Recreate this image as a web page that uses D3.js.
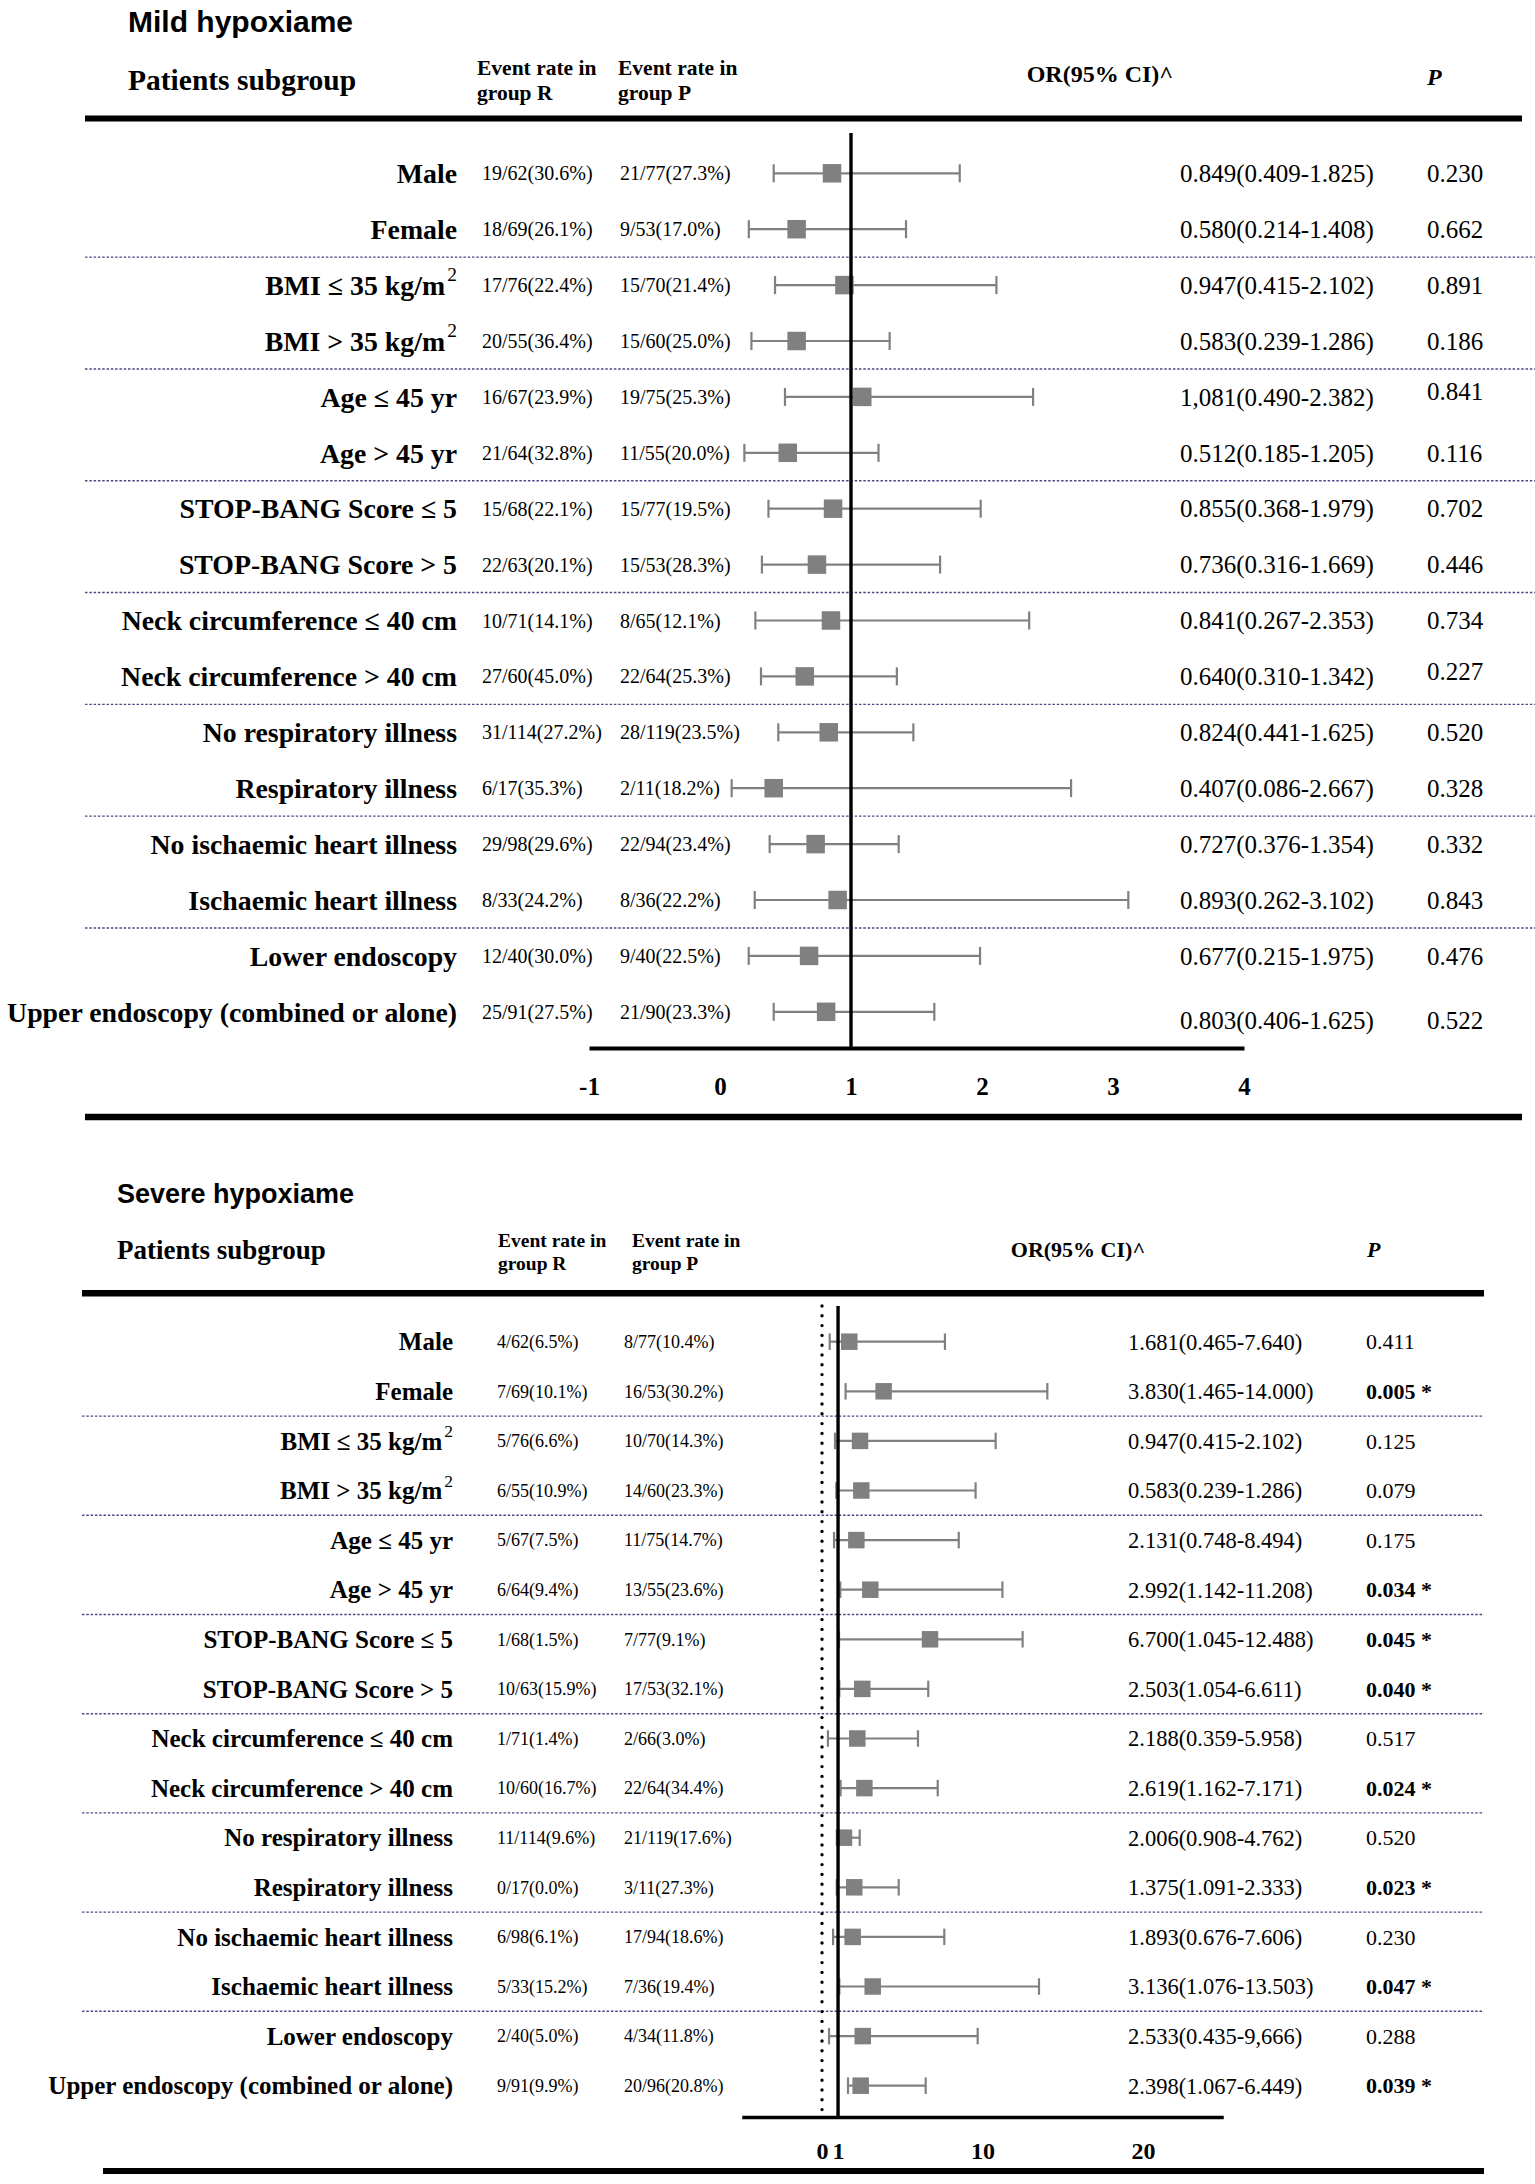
<!DOCTYPE html>
<html>
<head>
<meta charset="utf-8">
<script src="https://cdn.jsdelivr.net/npm/d3@7"></script>
<style>
  html, body { margin: 0; padding: 0; background: #ffffff; }
  svg { display: block; }
</style>
</head>
<body>
<script>
// ---------------- DATA ----------------
const subgroups = [
  "Male", "Female", "BMI ≤ 35 kg/m²", "BMI > 35 kg/m²", "Age ≤ 45 yr", "Age > 45 yr",
  "STOP-BANG Score ≤ 5", "STOP-BANG Score > 5", "Neck circumference ≤ 40 cm", "Neck circumference > 40 cm",
  "No respiratory illness", "Respiratory illness", "No ischaemic heart illness", "Ischaemic heart illness",
  "Lower endoscopy", "Upper endoscopy (combined or alone)"
];
const groupEnds = [1, 3, 5, 7, 9, 11, 13]; // separator drawn after these rows

// Mild hypoxiame
const mildRateR = ["19/62(30.6%)", "18/69(26.1%)", "17/76(22.4%)", "20/55(36.4%)", "16/67(23.9%)", "21/64(32.8%)",
  "15/68(22.1%)", "22/63(20.1%)", "10/71(14.1%)", "27/60(45.0%)", "31/114(27.2%)", "6/17(35.3%)",
  "29/98(29.6%)", "8/33(24.2%)", "12/40(30.0%)", "25/91(27.5%)"];
const mildRateP = ["21/77(27.3%)", "9/53(17.0%)", "15/70(21.4%)", "15/60(25.0%)", "19/75(25.3%)", "11/55(20.0%)",
  "15/77(19.5%)", "15/53(28.3%)", "8/65(12.1%)", "22/64(25.3%)", "28/119(23.5%)", "2/11(18.2%)",
  "22/94(23.4%)", "8/36(22.2%)", "9/40(22.5%)", "21/90(23.3%)"];
const mildORText = ["0.849(0.409-1.825)", "0.580(0.214-1.408)", "0.947(0.415-2.102)", "0.583(0.239-1.286)",
  "1,081(0.490-2.382)", "0.512(0.185-1.205)", "0.855(0.368-1.979)", "0.736(0.316-1.669)",
  "0.841(0.267-2.353)", "0.640(0.310-1.342)", "0.824(0.441-1.625)", "0.407(0.086-2.667)",
  "0.727(0.376-1.354)", "0.893(0.262-3.102)", "0.677(0.215-1.975)", "0.803(0.406-1.625)"];
const mildPText = ["0.230", "0.662", "0.891", "0.186", "0.841", "0.116", "0.702", "0.446",
  "0.734", "0.227", "0.520", "0.328", "0.332", "0.843", "0.476", "0.522"];
// plotted marks
const mildOR = [0.855, 0.585, 0.95, 0.585, 1.086, 0.517, 0.863, 0.74, 0.847, 0.647, 0.83, 0.41, 0.73, 0.898, 0.68, 0.81];
const mildLo = [0.41, 0.22, 0.42, 0.24, 0.496, 0.186, 0.37, 0.32, 0.27, 0.313, 0.445, 0.089, 0.379, 0.265, 0.219, 0.41];
const mildHi = [1.83, 1.42, 2.11, 1.295, 2.39, 1.21, 1.99, 1.68, 2.36, 1.35, 1.476, 2.68, 1.364, 3.117, 1.985, 1.636];
const mildTicks = [-1, 0, 1, 2, 3, 4];

// Severe hypoxiame
const severeRateR = ["4/62(6.5%)", "7/69(10.1%)", "5/76(6.6%)", "6/55(10.9%)", "5/67(7.5%)", "6/64(9.4%)",
  "1/68(1.5%)", "10/63(15.9%)", "1/71(1.4%)", "10/60(16.7%)", "11/114(9.6%)", "0/17(0.0%)",
  "6/98(6.1%)", "5/33(15.2%)", "2/40(5.0%)", "9/91(9.9%)"];
const severeRateP = ["8/77(10.4%)", "16/53(30.2%)", "10/70(14.3%)", "14/60(23.3%)", "11/75(14.7%)", "13/55(23.6%)",
  "7/77(9.1%)", "17/53(32.1%)", "2/66(3.0%)", "22/64(34.4%)", "21/119(17.6%)", "3/11(27.3%)",
  "17/94(18.6%)", "7/36(19.4%)", "4/34(11.8%)", "20/96(20.8%)"];
const severeORText = ["1.681(0.465-7.640)", "3.830(1.465-14.000)", "0.947(0.415-2.102)", "0.583(0.239-1.286)",
  "2.131(0.748-8.494)", "2.992(1.142-11.208)", "6.700(1.045-12.488)", "2.503(1.054-6.611)",
  "2.188(0.359-5.958)", "2.619(1.162-7.171)", "2.006(0.908-4.762)", "1.375(1.091-2.333)",
  "1.893(0.676-7.606)", "3.136(1.076-13.503)", "2.533(0.435-9,666)", "2.398(1.067-6.449)"];
const severePText = ["0.411", "0.005 *", "0.125", "0.079", "0.175", "0.034 *", "0.045 *", "0.040 *",
  "0.517", "0.024 *", "0.520", "0.023 *", "0.230", "0.047 *", "0.288", "0.039 *"];
const severeOR = [1.70, 3.84, 2.37, 2.45, 2.14, 3.01, 6.73, 2.51, 2.2, 2.64, 1.37, 2.01, 1.91, 3.16, 2.54, 2.41];
const severeLo = [0.48, 1.47, 0.81, 0.89, 0.75, 1.14, 1.06, 1.08, 0.37, 1.16, 1.09, 0.92, 0.69, 1.08, 0.44, 1.62];
const severeHi = [7.66, 14.04, 10.82, 9.57, 8.52, 11.24, 12.5, 6.62, 5.98, 7.21, 2.35, 4.78, 7.62, 13.52, 9.7, 6.46];
const severeTicks = [0, 1, 10, 20];

// ---------------- DRAWING ----------------
const W = 1535, H = 2184;
const SERIF = "'Liberation Serif', 'Times New Roman', serif";
const SANS = "'Liberation Sans', Arial, sans-serif";
const MARK = "#808080";
const SEP = "#4a4a85";

const svg = d3.select("body").append("svg").attr("width", W).attr("height", H);
svg.append("rect").attr("width", W).attr("height", H).attr("fill", "#fff");

function addLabel(g, text, x, y, size) {
  const t = g.append("text").attr("x", x).attr("y", y).attr("dy", "0.35em")
    .attr("text-anchor", "end").attr("font-family", SERIF).attr("font-weight", "bold")
    .attr("font-size", size).attr("fill", "#000");
  if (text.includes("²")) {
    t.append("tspan").text(text.replace("²", ""));
    t.append("tspan").text("2").attr("font-weight", "normal").attr("font-size", size * 0.7)
      .attr("dx", size * 0.08).attr("dy", -size * 0.5);
  } else {
    t.text(text);
  }
}

function drawPanel(c) {
  const g = svg.append("g");
  const x = d3.scaleLinear().domain(c.domain).range(c.range);
  const y = d3.scalePoint().domain(d3.range(subgroups.length)).range(c.rowsY);
  const step = y.step();

  // titles and headers
  g.append("text").attr("x", c.title.x).attr("y", c.title.y).text(c.title.text)
    .attr("font-family", SANS).attr("font-weight", "bold").attr("font-size", c.title.size);
  g.append("text").attr("x", c.sub.x).attr("y", c.sub.y).text("Patients subgroup")
    .attr("font-family", SERIF).attr("font-weight", "bold").attr("font-size", c.sub.size);
  [[c.ev.x1, "group R"], [c.ev.x2, "group P"]].forEach(([ex, l2]) => {
    g.append("text").attr("x", ex).attr("y", c.ev.y1).text("Event rate in")
      .attr("font-family", SERIF).attr("font-weight", "bold").attr("font-size", c.ev.size);
    g.append("text").attr("x", ex).attr("y", c.ev.y2).text(l2)
      .attr("font-family", SERIF).attr("font-weight", "bold").attr("font-size", c.ev.size);
  });
  g.append("text").attr("x", c.orH.cx).attr("y", c.orH.y).text("OR(95% CI)^").attr("text-anchor", "middle")
    .attr("font-family", SERIF).attr("font-weight", "bold").attr("font-size", c.orH.size);
  g.append("text").attr("x", c.pH.x).attr("y", c.pH.y).text("P")
    .attr("font-family", SERIF).attr("font-weight", "bold").attr("font-style", "italic").attr("font-size", c.pH.size);

  // thick rules
  [c.top, c.bottom].forEach(r => {
    g.append("line").attr("x1", r.x1).attr("x2", r.x2).attr("y1", r.y).attr("y2", r.y)
      .attr("stroke", "#000").attr("stroke-width", r.w);
  });

  // group separators
  g.selectAll("line.sep").data(groupEnds).join("line").attr("class", "sep")
    .attr("x1", c.sepX[0]).attr("x2", c.sepX[1])
    .attr("y1", d => y(d) + step / 2).attr("y2", d => y(d) + step / 2)
    .attr("stroke", SEP).attr("stroke-width", 1.4).attr("stroke-dasharray", "2.5,1.8");

  // row texts
  subgroups.forEach((s, i) => addLabel(g, s, c.labelX, y(i), c.labelSize));
  const rowText = (arr, xx, size, nudge, weightFn) => {
    g.append("g").selectAll("text").data(arr).join("text")
      .attr("x", xx).attr("y", (d, i) => y(i) + ((nudge && nudge[i]) || 0)).attr("dy", "0.35em")
      .attr("font-family", SERIF).attr("font-size", size)
      .attr("font-weight", d => weightFn ? weightFn(d) : "normal").text(d => d);
  };
  rowText(c.rateR, c.rateRX, c.rateSize);
  rowText(c.rateP, c.ratePX, c.rateSize);
  rowText(c.orText, c.orX, c.orSize, c.orNudge);
  rowText(c.pText, c.pX, c.pSize, c.pNudge, d => d.includes("*") ? "bold" : "normal");

  // dotted reference line at 0
  if (c.dotted) {
    g.append("line").attr("x1", x(0)).attr("x2", x(0)).attr("y1", c.vTop).attr("y2", c.axisY - 5)
      .attr("stroke", "#000").attr("stroke-width", 3.4).attr("stroke-linecap", "round")
      .attr("stroke-dasharray", "0,9.8");
  }

  // CI whiskers and point estimates
  const idx = d3.range(subgroups.length);
  const wg = g.append("g").attr("stroke", MARK).attr("stroke-width", 2.2);
  wg.selectAll("line.ci").data(idx).join("line").attr("class", "ci")
    .attr("x1", i => x(c.lo[i])).attr("x2", i => x(c.hi[i])).attr("y1", i => y(i)).attr("y2", i => y(i));
  wg.selectAll("line.capL").data(idx).join("line").attr("class", "capL")
    .attr("x1", i => x(c.lo[i])).attr("x2", i => x(c.lo[i]))
    .attr("y1", i => y(i) - c.cap / 2).attr("y2", i => y(i) + c.cap / 2);
  wg.selectAll("line.capR").data(idx).join("line").attr("class", "capR")
    .attr("x1", i => x(c.hi[i])).attr("x2", i => x(c.hi[i]))
    .attr("y1", i => y(i) - c.cap / 2).attr("y2", i => y(i) + c.cap / 2);
  g.append("g").selectAll("rect").data(idx).join("rect")
    .attr("x", i => x(c.or[i]) - c.sq / 2).attr("y", i => y(i) - c.sq / 2)
    .attr("width", c.sq).attr("height", c.sq).attr("fill", MARK);

  // line of no effect (OR = 1)
  g.append("line").attr("x1", x(1)).attr("x2", x(1)).attr("y1", c.vTop).attr("y2", c.axisY)
    .attr("stroke", "#000").attr("stroke-width", 3.4);

  // axis
  const ax = g.append("g").attr("transform", `translate(0,${c.axisY})`)
    .call(d3.axisBottom(x).tickValues(c.ticks).tickSize(0).tickSizeOuter(0).tickFormat(d => String(d)));
  ax.select(".domain").attr("stroke", "#000").attr("stroke-width", c.axisW);
  ax.selectAll("text").attr("y", c.tickY - c.axisY).attr("dy", 0)
    .attr("font-family", SERIF).attr("font-weight", "bold").attr("font-size", c.tickSize).attr("fill", "#000");
}

drawPanel({
  domain: [-1, 4], range: [589, 1244], rowsY: [173.3, 1011.8], ticks: mildTicks,
  rateR: mildRateR, rateP: mildRateP, orText: mildORText, pText: mildPText,
  or: mildOR, lo: mildLo, hi: mildHi,
  labelX: 457, labelSize: 27.8, rateRX: 482, ratePX: 620, rateSize: 20,
  orX: 1180, orSize: 25, pX: 1427, pSize: 25,
  orNudge: {15: 8}, pNudge: {4: -6, 9: -5, 15: 8},
  title: { text: "Mild hypoxiame", x: 128, y: 32, size: 30 },
  sub: { x: 128, y: 90, size: 29.5 },
  ev: { x1: 477, x2: 618, y1: 75, y2: 100, size: 21.5 },
  orH: { cx: 1100, y: 82, size: 24 }, pH: { x: 1427, y: 85, size: 24 },
  top: { x1: 85, x2: 1522, y: 118.5, w: 6 }, bottom: { x1: 85, x2: 1522, y: 1117, w: 6.5 },
  sepX: [85, 1535], vTop: 133, axisY: 1048, axisW: 4, tickY: 1095, tickSize: 25,
  sq: 18.5, cap: 18, dotted: false
});

drawPanel({
  domain: [-5, 25], range: [741.75, 1223.25], rowsY: [1341.7, 2085.7], ticks: severeTicks,
  rateR: severeRateR, rateP: severeRateP, orText: severeORText, pText: severePText,
  or: severeOR, lo: severeLo, hi: severeHi,
  labelX: 453, labelSize: 25, rateRX: 497, ratePX: 624, rateSize: 18,
  orX: 1128, orSize: 22.5, pX: 1366, pSize: 22,
  orNudge: null, pNudge: null,
  title: { text: "Severe hypoxiame", x: 117, y: 1203, size: 27 },
  sub: { x: 117, y: 1259, size: 27 },
  ev: { x1: 498, x2: 632, y1: 1246.7, y2: 1270, size: 19.5 },
  orH: { cx: 1078, y: 1257, size: 22 }, pH: { x: 1367, y: 1257, size: 22 },
  top: { x1: 82, x2: 1484, y: 1293.3, w: 6.5 }, bottom: { x1: 103, x2: 1484, y: 2171, w: 6 },
  sepX: [82, 1484], vTop: 1306, axisY: 2117, axisW: 3.5, tickY: 2159, tickSize: 24,
  sq: 16.5, cap: 16.5, dotted: true
});
</script>
</body>
</html>
